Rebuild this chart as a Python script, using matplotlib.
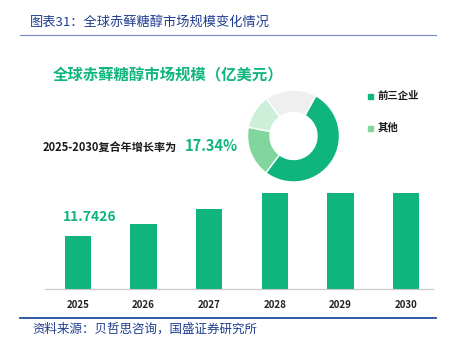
import matplotlib.pyplot as plt
from matplotlib.lines import Line2D
from matplotlib.patches import Rectangle

plt.rcParams['font.family'] = ['Noto Sans CJK SC', 'DejaVu Sans']

years = ['2025', '2026', '2027', '2028', '2029', '2030']
market = [11.7426, 14.4, 17.7, 21.8, 25.6, 30.0]
cagr = '17.34%'

share_labels = ['前三企业', '其他', '其他2', '其他3']
shares = [52.2, 17.8, 12.0, 18.0]

green = '#10b57e'
share_colors = [green, '#80d69c', '#cdeed9', '#efefef']
blue = '#1f3d8f'

W, H = 457, 346
fig = plt.figure(figsize=(W / 100, H / 100), dpi=100)

def fx(x):
    return x / W

def fy(y):
    return 1 - y / H

# header
fig.text(fx(30), fy(22), '图表31：全球赤藓糖醇市场规模变化情况', color=blue,
         fontsize=9.5, va='center', ha='left')
fig.add_artist(Line2D([fx(20), fx(436)], [fy(35), fy(35)], color='#6f8cc8', lw=0.8))
fig.add_artist(Line2D([fx(20), fx(436)], [fy(318), fy(318)], color='#1f4e9e', lw=1.3))
fig.text(fx(32), fy(329), '资料来源：贝哲思咨询，国盛证券研究所', color=blue,
         fontsize=9, va='center', ha='left')

# bars
ax = fig.add_axes([fx(45), fy(289), fx(433) - fx(45), fy(193) - fy(289)])
x = range(len(years))
ax.bar(x, market, width=0.4, color=green, edgecolor='none', clip_on=True)
ax.set_xlim(-0.5, 5.41)
ax.set_ylim(0, 21.3)
ax.set_yticks([])
ax.set_xticks(list(x))
ax.set_xticklabels(years, fontsize=7, fontweight='bold', color='#222222')
ax.tick_params(axis='x', length=0, pad=8)
for s in ['top', 'right', 'left']:
    ax.spines[s].set_visible(False)
ax.spines['bottom'].set_color('#c8c8c8')
ax.spines['bottom'].set_linewidth(0.8)
ax.patch.set_alpha(0)

# texts
fig.text(fx(53), fy(75), '全球赤藓糖醇市场规模（亿美元）', color=green,
         fontsize=11.1, fontweight='bold', va='center', ha='left')
fig.text(fx(43), fy(147), '2025-2030复合年增长率为', color='#1a1a1a',
         fontsize=8, fontweight='bold', va='center', ha='left')
fig.text(fx(185), fy(146), cagr, color=green,
         fontsize=10.5, fontweight='bold', va='center', ha='left')
fig.text(fx(63), fy(217), f'{market[0]:.4f}', color=green,
         fontsize=10, fontweight='bold', va='center', ha='left')

# donut
cx, cy, r = 293.5, 136, 50
pax = fig.add_axes([fx(cx - r), fy(cy + r), fx(2 * r), fy(cy - r) - fy(cy + r)])
pax.pie(shares, colors=share_colors, startangle=61, counterclock=False,
        radius=0.92, wedgeprops=dict(width=0.45, edgecolor='white', linewidth=1))
pax.set_xlim(-1, 1)
pax.set_ylim(-1, 1)
pax.set_aspect('equal')
pax.axis('off')

# legend
for i, yy in enumerate([96, 128]):
    fig.add_artist(Rectangle((fx(368), fy(yy + 2.5)), fx(5), fy(yy - 2.5) - fy(yy + 2.5),
                             color=share_colors[i], transform=fig.transFigure))
    fig.text(fx(378), fy(yy), share_labels[i], color='#1a1a1a', fontsize=7.5,
             fontweight='bold', va='center', ha='left')

fig.savefig('out.png', dpi=100)
